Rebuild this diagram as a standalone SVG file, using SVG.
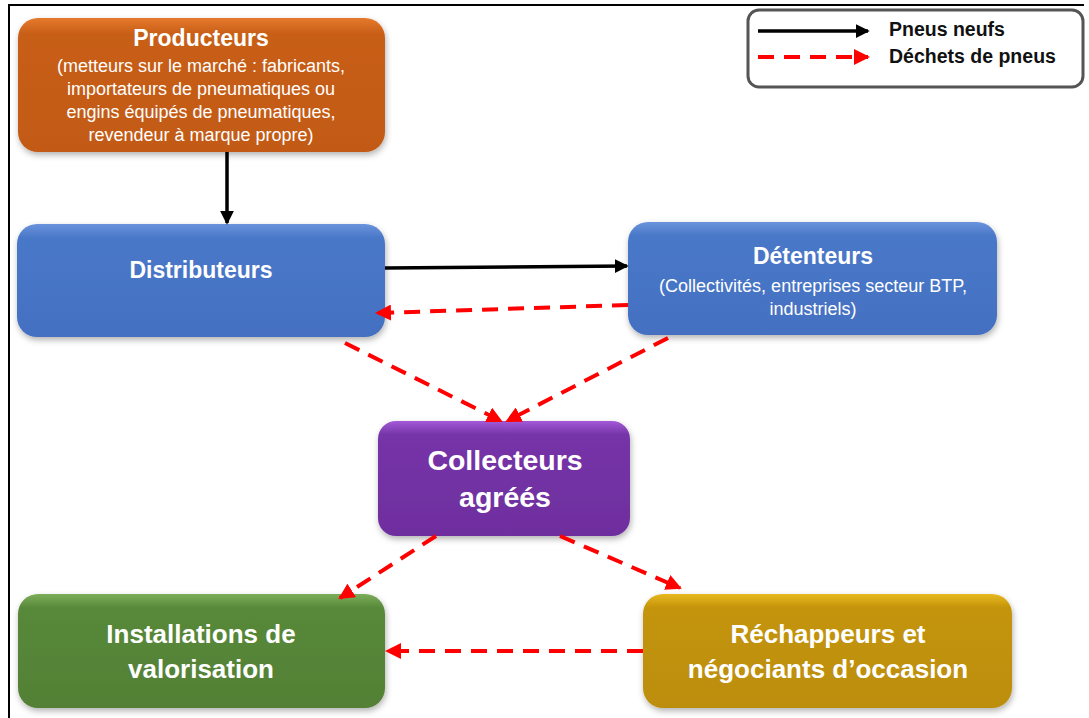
<svg xmlns="http://www.w3.org/2000/svg" width="1089" height="718" viewBox="0 0 1089 718">
<style>
.t{font-family:"Liberation Sans",Arial,sans-serif;fill:#fff;text-anchor:middle}
.b{font-weight:bold}
.s{font-size:18px}
.lg{font-family:"Liberation Sans",Arial,sans-serif;font-weight:bold;font-size:19.5px;fill:#111}
.blk{stroke:#000;stroke-width:3.5;fill:none}
.red{stroke:#f00;stroke-width:4;fill:none;stroke-dasharray:16 10}
</style>
<defs>
<filter id="sh" x="-10%" y="-10%" width="125%" height="130%">
<feDropShadow dx="1" dy="3" stdDeviation="3" flood-color="#000" flood-opacity="0.3"/>
</filter>
<linearGradient id="go" x1="0" y1="0" x2="0" y2="1"><stop offset="0" stop-color="#E57A2E"/><stop offset="0.12" stop-color="#C85E16"/><stop offset="1" stop-color="#C25A12"/></linearGradient>
<linearGradient id="gb" x1="0" y1="0" x2="0" y2="1"><stop offset="0" stop-color="#6A93DC"/><stop offset="0.12" stop-color="#4A78C8"/><stop offset="1" stop-color="#4470C2"/></linearGradient>
<linearGradient id="gp" x1="0" y1="0" x2="0" y2="1"><stop offset="0" stop-color="#A35AD8"/><stop offset="0.12" stop-color="#7634A8"/><stop offset="1" stop-color="#6E2E9E"/></linearGradient>
<linearGradient id="gg" x1="0" y1="0" x2="0" y2="1"><stop offset="0" stop-color="#7CAE5A"/><stop offset="0.12" stop-color="#58893A"/><stop offset="1" stop-color="#528035"/></linearGradient>
<linearGradient id="gy" x1="0" y1="0" x2="0" y2="1"><stop offset="0" stop-color="#E8B820"/><stop offset="0.12" stop-color="#C4940A"/><stop offset="1" stop-color="#BC8E08"/></linearGradient>
<marker id="ab" markerWidth="4" markerHeight="4" refX="3.5" refY="2" orient="auto" markerUnits="strokeWidth"><path d="M0,0 L4,2 L0,4 Z" fill="#000"/></marker>
<marker id="ar" markerWidth="4" markerHeight="4" refX="3.5" refY="2" orient="auto" markerUnits="strokeWidth"><path d="M0,0 L4,2 L0,4 Z" fill="#f00"/></marker>
</defs>
<rect width="1089" height="718" fill="#fff"/>
<path d="M9,718 V5 H1084" stroke="#000" stroke-width="2" fill="none"/>

<g id="legend">
<rect x="748" y="10" width="335" height="77" rx="11" fill="#fff" stroke="#555" stroke-width="3"/>
<line x1="758" y1="31" x2="868" y2="31" class="blk" marker-end="url(#ab)"/>
<line x1="758" y1="57" x2="868" y2="57" class="red" marker-end="url(#ar)"/>
<text x="889" y="36" class="lg">Pneus neufs</text>
<text x="889" y="63" class="lg">Déchets de pneus</text>
</g>

<g id="producteurs">
<rect x="18" y="18" width="367" height="134" rx="20" fill="url(#go)" filter="url(#sh)"/>
<text x="201" y="46" class="t b" font-size="23">Producteurs</text>
<text x="201" y="72" class="t s">(metteurs sur le marché : fabricants,</text>
<text x="201" y="95" class="t s">importateurs de pneumatiques ou</text>
<text x="201" y="118" class="t s">engins équipés de pneumatiques,</text>
<text x="201" y="141" class="t s">revendeur à marque propre)</text>
</g>

<g id="distributeurs">
<rect x="17" y="224" width="368" height="113" rx="20" fill="url(#gb)" filter="url(#sh)"/>
<text x="201" y="278" class="t b" font-size="23">Distributeurs</text>
</g>

<g id="detenteurs">
<rect x="628" y="222" width="369" height="113" rx="20" fill="url(#gb)" filter="url(#sh)"/>
<text x="813" y="264" class="t b" font-size="23">Détenteurs</text>
<text x="813" y="292" class="t s">(Collectivités, entreprises secteur BTP,</text>
<text x="813" y="315" class="t s">industriels)</text>
</g>

<g id="collecteurs">
<rect x="378" y="421" width="252" height="115" rx="18" fill="url(#gp)" filter="url(#sh)"/>
<text x="505" y="470" class="t b" font-size="28.5">Collecteurs</text>
<text x="505" y="507" class="t b" font-size="28.5">agréés</text>
</g>

<g id="installations">
<rect x="18" y="594" width="367" height="114" rx="20" fill="url(#gg)" filter="url(#sh)"/>
<text x="201" y="643" class="t b" font-size="26">Installations de</text>
<text x="201" y="678" class="t b" font-size="26">valorisation</text>
</g>

<g id="rechappeurs">
<rect x="643" y="594" width="369" height="114" rx="20" fill="url(#gy)" filter="url(#sh)"/>
<text x="828" y="643" class="t b" font-size="26">Réchappeurs et</text>
<text x="828" y="678" class="t b" font-size="26">négociants d’occasion</text>
</g>

<g id="connectors">
<line x1="227" y1="152" x2="227" y2="223" class="blk" marker-end="url(#ab)"/>
<line x1="385" y1="268" x2="627" y2="266" class="blk" marker-end="url(#ab)"/>
<line x1="628" y1="305" x2="377" y2="313" class="red" marker-end="url(#ar)"/>
<line x1="345" y1="343" x2="501" y2="421" class="red" marker-end="url(#ar)"/>
<line x1="668" y1="338" x2="507" y2="421" class="red" marker-end="url(#ar)"/>
<line x1="436" y1="536" x2="340" y2="598" class="red" marker-end="url(#ar)"/>
<line x1="560" y1="536" x2="680" y2="588" class="red" marker-end="url(#ar)"/>
<line x1="643" y1="651" x2="387" y2="651" class="red" marker-end="url(#ar)"/>
</g>
</svg>
